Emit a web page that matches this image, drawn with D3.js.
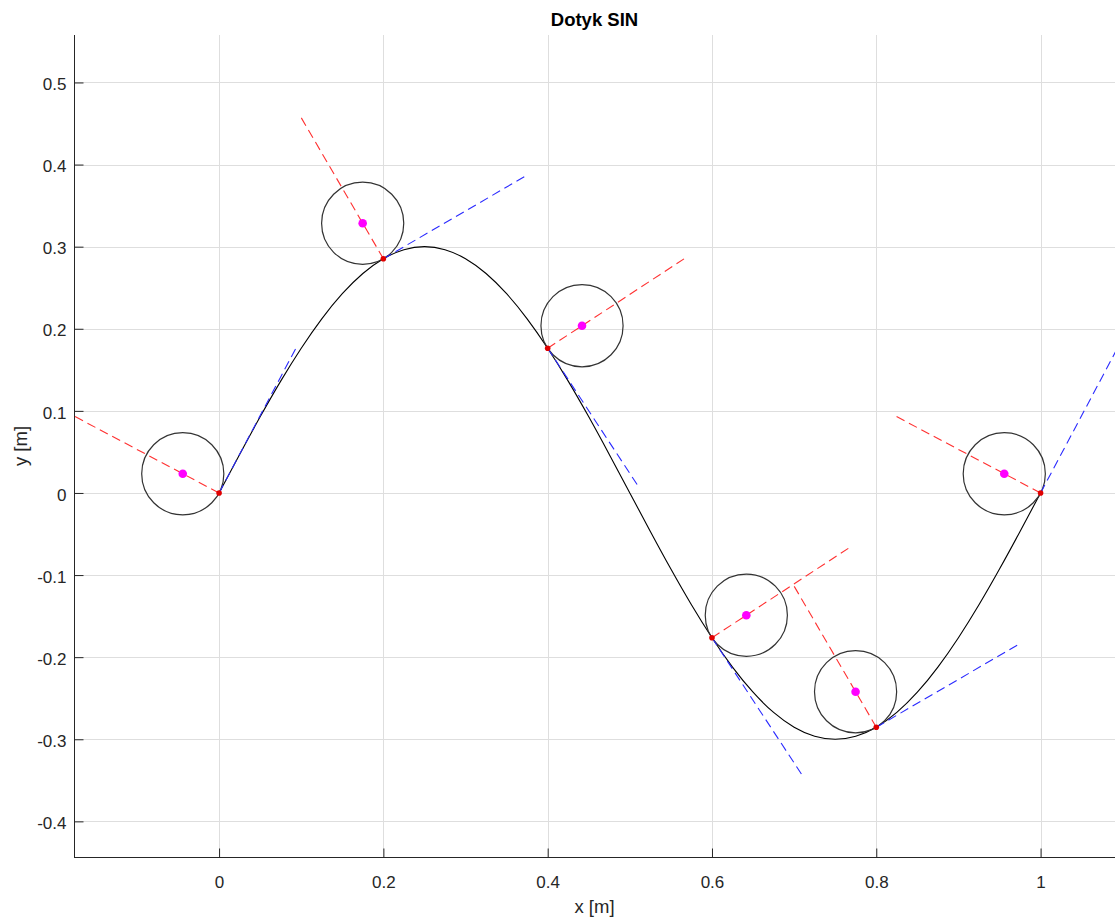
<!DOCTYPE html>
<html>
<head>
<meta charset="utf-8">
<script src="https://cdn.jsdelivr.net/npm/d3@7"></script>
<style>
  body { margin: 0; background: #fff; }
  text { font-family: "Liberation Sans", Arial, sans-serif; fill: #262626; }
</style>
</head>
<body>
<div id="plot"></div>
<script>
// curve samples
const curveX = [0, 0.025, 0.05, 0.075, 0.1, 0.125, 0.15, 0.175, 0.2, 0.225, 0.25,
  0.275, 0.3, 0.325, 0.35, 0.375, 0.4, 0.425, 0.45, 0.475, 0.5,
  0.525, 0.55, 0.575, 0.6, 0.625, 0.65, 0.675, 0.7, 0.725, 0.75,
  0.775, 0.8, 0.825, 0.85, 0.875, 0.9, 0.925, 0.95, 0.975, 1];
const curveY = [0, 0.0469, 0.0927, 0.1362, 0.1763, 0.2121, 0.2427, 0.2673, 0.2853, 0.2963, 0.3,
  0.2963, 0.2853, 0.2673, 0.2427, 0.2121, 0.1763, 0.1362, 0.0927, 0.0469, 0,
  -0.0469, -0.0927, -0.1362, -0.1763, -0.2121, -0.2427, -0.2673, -0.2853, -0.2963, -0.3,
  -0.2963, -0.2853, -0.2673, -0.2427, -0.2121, -0.1763, -0.1362, -0.0927, -0.0469, 0];

// contact points
const touchX = [0, 0.2, 0.4, 0.6, 0.8, 1];
const touchY = [0, 0.2853, 0.1763, -0.1763, -0.2853, 0];

// circle centres + radius
const centerX = [-0.0442, 0.1748, 0.4418, 0.6418, 0.7748, 0.9558];
const centerY = [0.0234, 0.3285, 0.2037, -0.1489, -0.2421, 0.0234];
const radius = 0.05;

// tangent (blue) and normal (red) line end points
const tangentX = [0.0937, 0.3728, 0.5097, 0.7097, 0.9728, 1.0937];
const tangentY = [0.1766, 0.3859, 0.0090, -0.3436, -0.1847, 0.1766];
const normalX = [-0.1766, 0.0994, 0.5673, 0.7673, 0.6994, 0.8234];
const normalY = [0.0937, 0.4581, 0.2860, -0.0666, -0.1125, 0.0937];

// ticks
const xTicks = [0, 0.2, 0.4, 0.6, 0.8, 1];
const xTickLabels = ['0', '0.2', '0.4', '0.6', '0.8', '1'];
const yTicks = [-0.4, -0.3, -0.2, -0.1, 0, 0.1, 0.2, 0.3, 0.4, 0.5];
const yTickLabels = ['-0.4', '-0.3', '-0.2', '-0.1', '0', '0.1', '0.2', '0.3', '0.4', '0.5'];

let width = 1115, height = 920;
let margin = { top: 35, bottom: 63, left: 74, right: 0 };
let plotW = width - margin.left - margin.right;
let plotH = height - margin.top - margin.bottom;

let svg = d3.select('#plot')
  .append('svg')
    .attr('width', width)
    .attr('height', height)
    .style('display', 'block')
    .style('background', '#FFFFFF');

// equal aspect: same px per unit on both axes
let xScale = d3.scaleLinear()
  .domain([-0.1766, 1.0937])
  .range([margin.left, margin.left + 1.2703 * 821.5]);

let yScale = d3.scaleLinear()
  .domain([-0.4434, 0.5578])
  .range([margin.top + plotH, margin.top]);

svg.append('clipPath')
    .attr('id', 'clip')
  .append('rect')
    .attr('x', margin.left)
    .attr('y', margin.top)
    .attr('width', plotW)
    .attr('height', plotH);

// grid
let grid = svg.append('g').attr('stroke', '#dedede').attr('stroke-width', 1);
grid.selectAll('.gx')
    .data(xTicks)
  .enter()
  .append('line')
    .attr('x1', d => Math.round(xScale(d)) + 0.5)
    .attr('x2', d => Math.round(xScale(d)) + 0.5)
    .attr('y1', margin.top)
    .attr('y2', margin.top + plotH);
grid.selectAll('.gy')
    .data(yTicks)
  .enter()
  .append('line')
    .attr('y1', d => Math.round(yScale(d)) + 0.5)
    .attr('y2', d => Math.round(yScale(d)) + 0.5)
    .attr('x1', margin.left)
    .attr('x2', width);

let plot = svg.append('g').attr('clip-path', 'url(#clip)');

// sine curve
let curveData = curveX.map((x, i) => ({ x: x, y: curveY[i] }));
plot.append('path')
    .datum(curveData)
    .attr('fill', 'none')
    .attr('stroke', '#000')
    .attr('stroke-width', 1.1)
    .attr('d', d3.line().x(d => xScale(d.x)).y(d => yScale(d.y)).curve(d3.curveNatural));

let pts = touchX.map((x, i) => ({
  x: x, y: touchY[i],
  cx: centerX[i], cy: centerY[i],
  tx: tangentX[i], ty: tangentY[i],
  nx: normalX[i], ny: normalY[i]
}));

// wheels
plot.selectAll('.wheel')
    .data(pts)
  .enter()
  .append('circle')
    .attr('cx', d => xScale(d.cx))
    .attr('cy', d => yScale(d.cy))
    .attr('r', xScale(radius) - xScale(0))
    .attr('fill', 'none')
    .attr('stroke', '#333')
    .attr('stroke-width', 1.2);

// tangents
plot.selectAll('.tan')
    .data(pts)
  .enter()
  .append('line')
    .attr('x1', d => xScale(d.x))
    .attr('y1', d => yScale(d.y))
    .attr('x2', d => xScale(d.tx))
    .attr('y2', d => yScale(d.ty))
    .attr('stroke', '#2a2aff')
    .attr('stroke-width', 1.1)
    .attr('stroke-dasharray', '9,5');

// normals
plot.selectAll('.nor')
    .data(pts)
  .enter()
  .append('line')
    .attr('x1', d => xScale(d.x))
    .attr('y1', d => yScale(d.y))
    .attr('x2', d => xScale(d.nx))
    .attr('y2', d => yScale(d.ny))
    .attr('stroke', '#ff3030')
    .attr('stroke-width', 1.1)
    .attr('stroke-dasharray', '9,5');

// contact points
plot.selectAll('.touch')
    .data(pts)
  .enter()
  .append('circle')
    .attr('cx', d => xScale(d.x))
    .attr('cy', d => yScale(d.y))
    .attr('r', 2.8)
    .attr('fill', '#e00000');

// centres
plot.selectAll('.ctr')
    .data(pts)
  .enter()
  .append('circle')
    .attr('cx', d => xScale(d.cx))
    .attr('cy', d => yScale(d.cy))
    .attr('r', 4.3)
    .attr('fill', '#ff00ff');

// axes (MATLAB style, ticks inside)
let xAxis = svg.append('g')
    .attr('transform', `translate(0,${margin.top + plotH + 0.5})`)
    .call(d3.axisBottom(xScale)
      .tickValues(xTicks)
      .tickFormat((d, i) => xTickLabels[i])
      .tickSizeInner(-9)
      .tickSizeOuter(0)
      .tickPadding(18));

let yAxis = svg.append('g')
    .attr('transform', `translate(${margin.left + 0.5},0)`)
    .call(d3.axisLeft(yScale)
      .tickValues(yTicks)
      .tickFormat((d, i) => yTickLabels[i])
      .tickSizeInner(-9)
      .tickSizeOuter(0)
      .tickPadding(8));

[xAxis, yAxis].forEach(ax => {
  ax.select('.domain').attr('stroke', '#262626');
  ax.selectAll('.tick line').attr('stroke', '#262626');
  ax.selectAll('.tick text')
    .attr('font-family', '"Liberation Sans", Arial, sans-serif')
    .attr('font-size', 17)
    .attr('fill', '#262626');
});
xAxis.select('.domain').attr('d', `M${margin.left},0H${width}`);
yAxis.select('.domain').attr('d', `M0,${margin.top}V${margin.top + plotH}`);
yAxis.selectAll('.tick text').attr('dy', '0.42em');

// title and labels
svg.append('text')
    .attr('x', margin.left + plotW / 2)
    .attr('y', 26)
    .attr('text-anchor', 'middle')
    .attr('font-size', 18.5)
    .attr('font-weight', 'bold')
    .style('fill', '#000')
    .text('Dotyk SIN');

svg.append('text')
    .attr('x', margin.left + plotW / 2)
    .attr('y', 913)
    .attr('text-anchor', 'middle')
    .attr('font-size', 18.5)
    .text('x [m]');

svg.append('text')
    .attr('transform', `translate(27,${margin.top + plotH / 2}) rotate(-90)`)
    .attr('text-anchor', 'middle')
    .attr('font-size', 18.5)
    .text('y [m]');
</script>
</body>
</html>
